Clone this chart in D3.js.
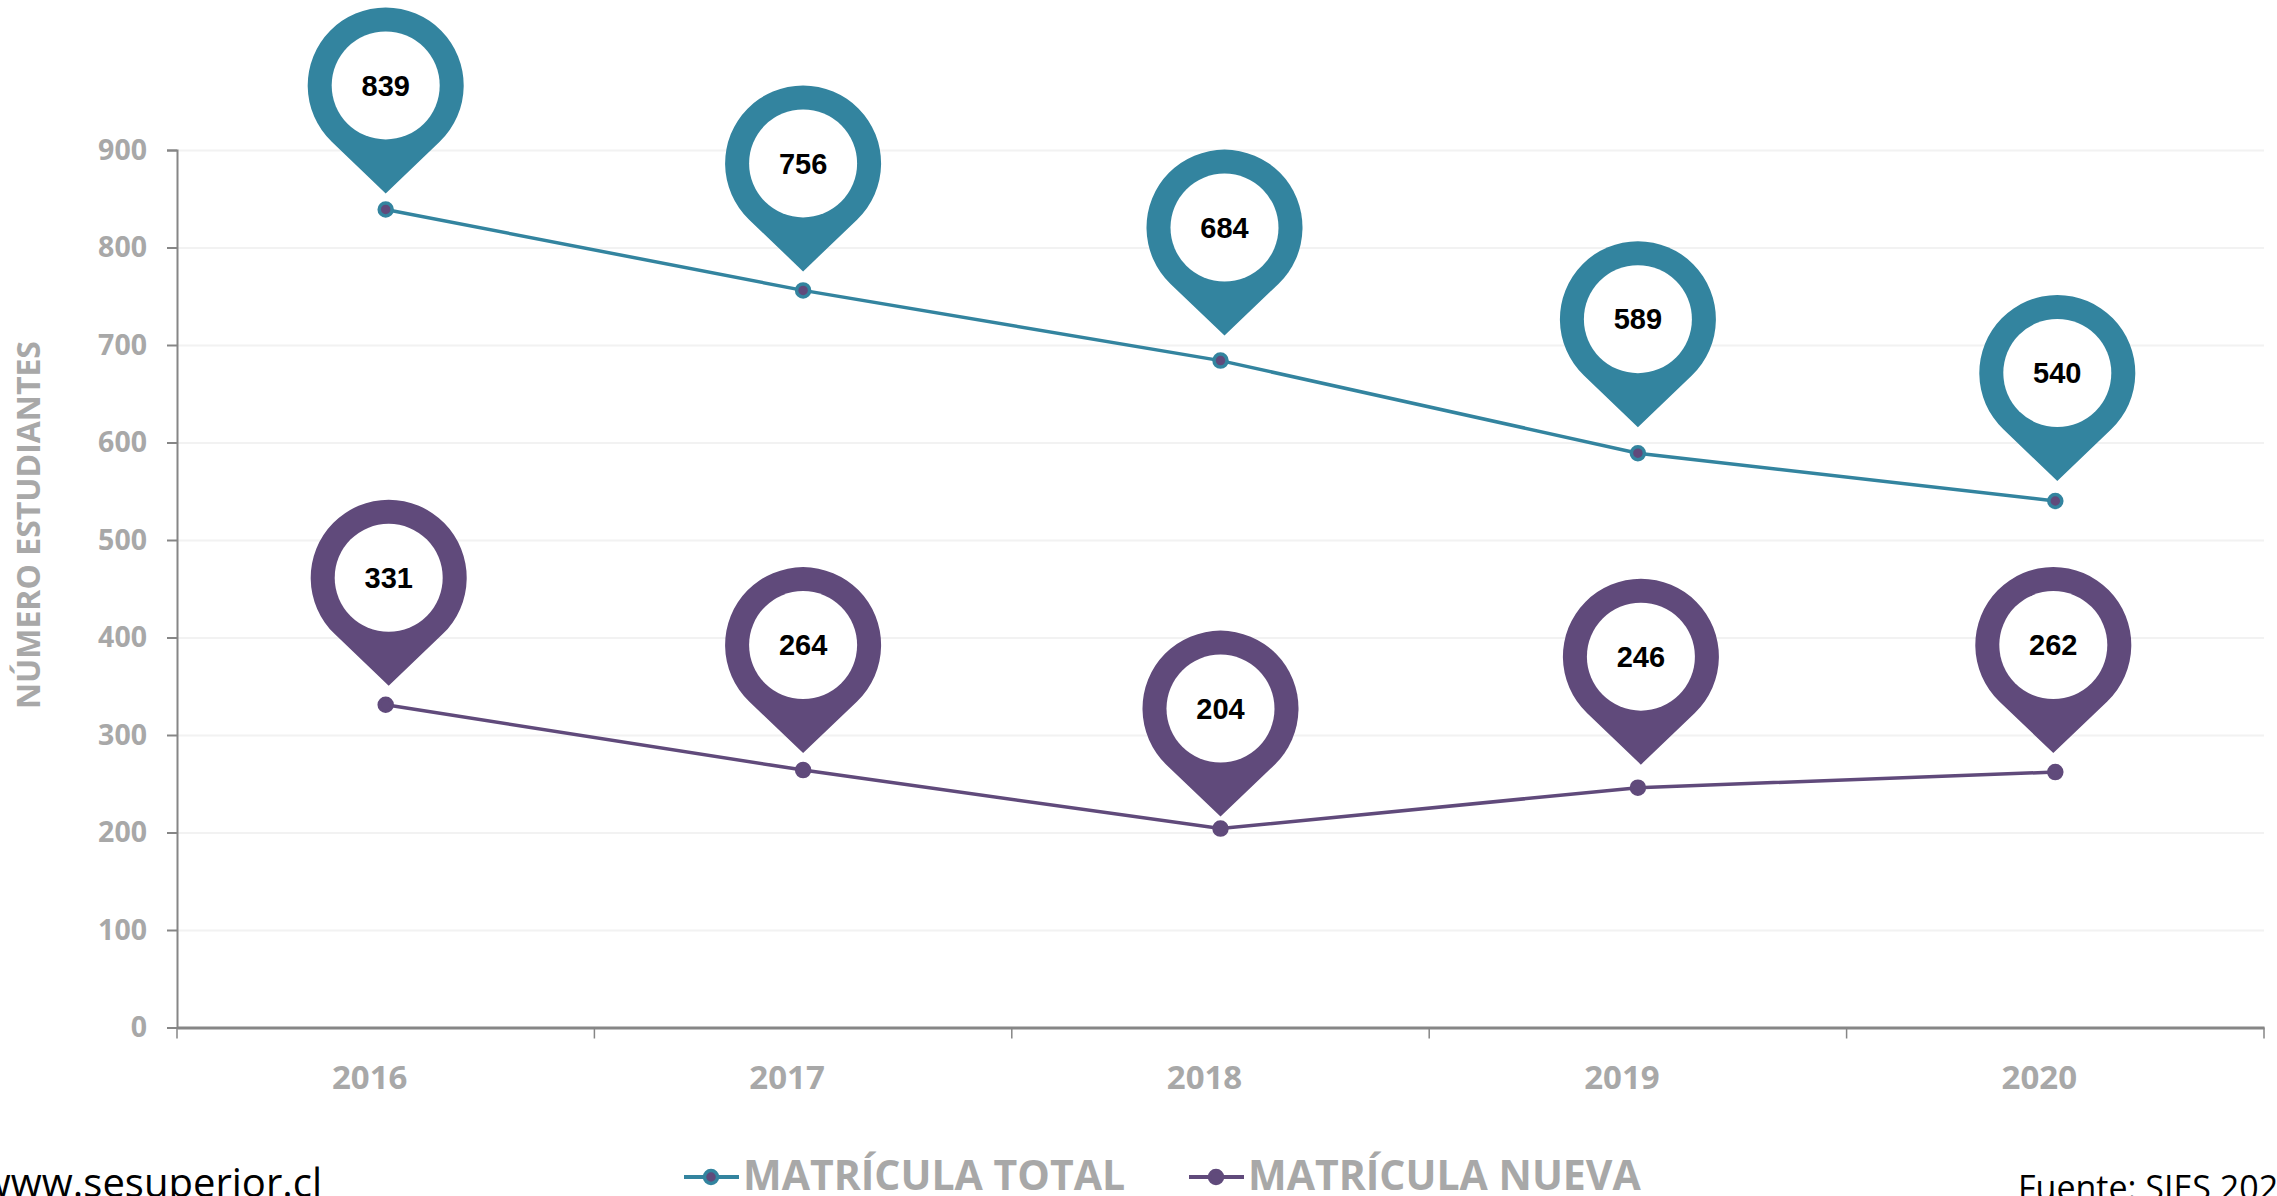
<!DOCTYPE html>
<html>
<head>
<meta charset="utf-8">
<script src="https://cdn.jsdelivr.net/npm/d3@7"></script>
<style>
  html, body { margin: 0; padding: 0; background: #fff; overflow: hidden; }
  text { font-family: "Open Sans", sans-serif; }
</style>
</head>
<body>
<div id="chart"></div>
<script>
// data
const years = ["2016", "2017", "2018", "2019", "2020"];
const matriculaTotal = [839, 756, 684, 589, 540];
const matriculaNueva = [331, 264, 204, 246, 262];
const yTicks = [0, 100, 200, 300, 400, 500, 600, 700, 800, 900];

// the pins were placed by hand in the original, so each one has its own nudge
const pinNudgeXTotal = [0, 0, 4, 0, 2];
const pinGapTotal = [16, 19, 25, 26, 20];
const pinNudgeXNueva = [3, 0, 0, 3, -2];
const pinGapNueva = [19, 17, 12, 23, 19];

const W = 2277, H = 1196;
const margin = { top: 150, right: 13, bottom: 168.5, left: 177 };
const width = W - margin.left - margin.right;
const height = H - margin.top - margin.bottom;

const TEAL = "#33849f", PURPLE = "#604a7b", GREY = "#a8a8a8", AXIS = "#868686";

const svg = d3.select("#chart").append("svg")
  .attr("width", W)
  .attr("height", H)
  .style("display", "block");
const g = svg.append("g").attr("transform", `translate(${margin.left},${margin.top})`);

const xScale = d3.scaleBand().domain(years).range([0, width]);
const yScale = d3.scaleLinear().domain([0, 900]).range([height, 0]);

// gridlines
const grid = g.append("g").call(d3.axisLeft(yScale).tickValues(yTicks.slice(1)).tickSize(-width).tickFormat(""));
grid.select(".domain").remove();
grid.selectAll("line").attr("stroke", "#f2f2f2").attr("stroke-width", 2);

// y axis
const yAxis = g.append("g").call(d3.axisLeft(yScale).tickValues(yTicks).tickSize(10).tickPadding(20));
yAxis.select(".domain").attr("stroke", AXIS).attr("stroke-width", 2);
yAxis.selectAll("line").attr("stroke", AXIS).attr("stroke-width", 2);
yAxis.selectAll("text")
  .attr("fill", GREY)
  .attr("font-size", 28.5)
  .attr("font-weight", 700)
  .style("font-family", '"Open Sans", sans-serif');

// x axis, ticks sit between the categories
const xAxis = g.append("g")
  .attr("transform", `translate(0,${height})`)
  .call(d3.axisBottom(xScale).tickSize(0).tickPadding(38));
xAxis.select(".domain").attr("stroke", AXIS).attr("stroke-width", 3);
xAxis.selectAll("text")
  .attr("dx", -16)
  .attr("fill", GREY)
  .attr("font-size", 33)
  .attr("font-weight", 700)
  .style("font-family", '"Open Sans", sans-serif');
g.append("g").selectAll("line")
  .data(d3.range(years.length + 1))
  .enter().append("line")
  .attr("x1", d => d * xScale.step())
  .attr("x2", d => d * xScale.step())
  .attr("y1", height)
  .attr("y2", height + 11)
  .attr("stroke", AXIS)
  .attr("stroke-width", 1.5);

// y title
svg.append("text")
  .attr("transform", "translate(40,525) rotate(-90)")
  .attr("text-anchor", "middle")
  .attr("fill", GREY)
  .attr("font-size", 32)
  .attr("font-weight", 700)
  .text("NÚMERO ESTUDIANTES");

// pin outline: circle + the two tangents down to the tip, tip at 0,0
const pinR = 78, pinHole = 54, pinLen = 108;
function pinPath() {
  const a = Math.asin(pinR / pinLen);
  const p = d3.path();
  p.moveTo(0, 0);
  p.lineTo(-pinR * Math.cos(a), -pinLen + pinR * Math.sin(a));
  p.arc(0, -pinLen, pinR, Math.PI - a, a, false);
  p.closePath();
  return p.toString();
}

function drawSeries(values, color, inner, nudgeX, gaps) {
  const rows = years.map((y, i) => ({ year: y, value: values[i], dx: nudgeX[i], gap: gaps[i] }));
  const cx = d => xScale(d.year) + xScale.bandwidth() / 2;

  const line = d3.line().x(cx).y(d => yScale(d.value));
  g.append("path")
    .datum(rows)
    .attr("d", line)
    .attr("fill", "none")
    .attr("stroke", color)
    .attr("stroke-width", 3.5);

  g.selectAll(null).data(rows).enter().append("circle")
    .attr("cx", cx)
    .attr("cy", d => yScale(d.value))
    .attr("r", 6.5)
    .attr("fill", inner)
    .attr("stroke", color)
    .attr("stroke-width", 3.5);

  const pins = g.selectAll(null).data(rows).enter().append("g")
    .attr("transform", d => `translate(${cx(d) + d.dx},${yScale(d.value) - d.gap})`);
  pins.append("path").attr("d", pinPath()).attr("fill", color);
  pins.append("circle").attr("cy", -pinLen).attr("r", pinHole).attr("fill", "#fff");
  pins.append("text")
    .attr("y", -pinLen)
    .attr("dy", "0.35em")
    .attr("text-anchor", "middle")
    .attr("font-size", 29)
    .attr("font-weight", 700)
    .style("font-family", '"Liberation Sans", sans-serif')
    .attr("fill", "#000")
    .text(d => d.value);
}

drawSeries(matriculaTotal, TEAL, PURPLE, pinNudgeXTotal, pinGapTotal);
drawSeries(matriculaNueva, PURPLE, PURPLE, pinNudgeXNueva, pinGapNueva);

// legend
const legend = svg.append("g");
const legendItems = [
  { label: "MATRÍCULA TOTAL", color: TEAL, inner: PURPLE, x: 684 },
  { label: "MATRÍCULA NUEVA", color: PURPLE, inner: PURPLE, x: 1189 }
];
legendItems.forEach(function(d) {
  legend.append("line")
    .attr("x1", d.x).attr("x2", d.x + 55)
    .attr("y1", 1177).attr("y2", 1177)
    .attr("stroke", d.color).attr("stroke-width", 4);
  legend.append("circle")
    .attr("cx", d.x + 27).attr("cy", 1177).attr("r", 6.5)
    .attr("fill", d.inner).attr("stroke", d.color).attr("stroke-width", 3.5);
  legend.append("text")
    .attr("x", d.x + 59).attr("y", 1190)
    .attr("fill", GREY)
    .attr("font-size", 41)
    .attr("font-weight", 700)
    .text(d.label);
});

// footer, both run off the edge of the picture
svg.append("text")
  .attr("x", 322).attr("y", 1197)
  .attr("text-anchor", "end")
  .attr("font-size", 40)
  .attr("fill", "#000")
  .text("www.sesuperior.cl");
svg.append("text")
  .attr("x", 2018).attr("y", 1200)
  .attr("font-size", 34)
  .attr("fill", "#000")
  .text("Fuente: SIES 2020");
</script>
</body>
</html>
